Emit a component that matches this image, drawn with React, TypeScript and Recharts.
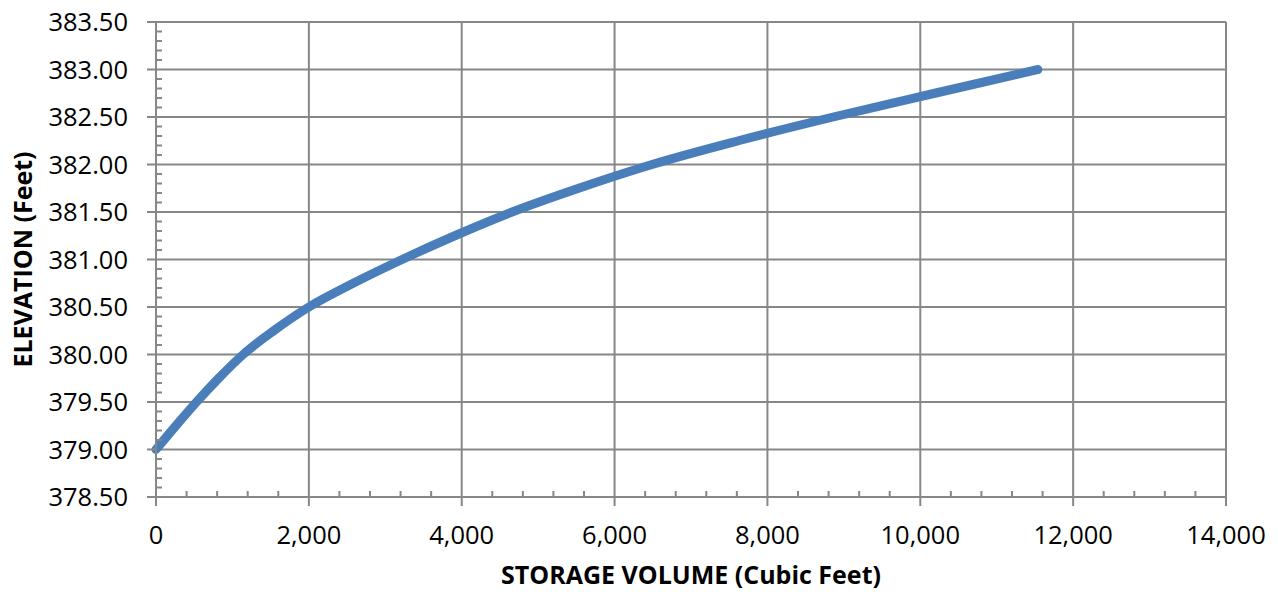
import { LineChart, Line, XAxis, YAxis, CartesianGrid } from "recharts";

// storage volume (cu ft) vs. elevation (ft)
const elevation = [
  379.0, 379.25, 379.5, 379.75, 380.0, 380.25, 380.5, 380.75, 381.0,
  381.25, 381.5, 381.75, 382.0, 382.25, 382.5, 382.75, 383.0,
];
const volume = [
  0, 260, 530, 820, 1140, 1540, 2000, 2580, 3220,
  3910, 4660, 5530, 6490, 7620, 8860, 10190, 11540,
];

const xMajor = [0, 2000, 4000, 6000, 8000, 10000, 12000, 14000];
const xMinorStep = 400;
const yMajor = [378.5, 379, 379.5, 380, 380.5, 381, 381.5, 382, 382.5, 383, 383.5];
const yMinorStep = 0.1;

const xTicks = Array.from({ length: 14000 / xMinorStep + 1 }, (_, i) => i * xMinorStep);
const yTicks = Array.from({ length: 51 }, (_, i) => +(378.5 + i * yMinorStep).toFixed(1));

const data = volume.map((v, i) => ({ volume: v, elevation: elevation[i] }));

const GRID = "#878787";
const FONT = "'Open Sans', sans-serif";

const isMajor = (list: number[], v: number) => list.some((m) => Math.abs(m - v) < 1e-6);

function XTick(props: any) {
  const { x, y, payload } = props;
  const major = isMajor(xMajor, payload.value);
  return (
    <g>
      {major ? (
        <line x1={x} x2={x} y1={y} y2={y + 9} stroke={GRID} strokeWidth={2} />
      ) : (
        <line x1={x} x2={x} y1={y} y2={y - 6} stroke={GRID} strokeWidth={2} />
      )}
      {major && (
        <text x={x} y={y + 47} textAnchor="middle" fill="#000" fontSize={25.5} fontFamily={FONT}>
          {payload.value.toLocaleString("en-US")}
        </text>
      )}
    </g>
  );
}

function YTick(props: any) {
  const { x, y, payload } = props;
  const major = isMajor(yMajor, payload.value);
  return (
    <g>
      {major ? (
        <line x1={x - 9} x2={x} y1={y} y2={y} stroke={GRID} strokeWidth={2} />
      ) : (
        <line x1={x} x2={x + 6} y1={y} y2={y} stroke={GRID} strokeWidth={2} />
      )}
      {major && (
        <text x={x - 28} y={y + 9} textAnchor="end" fill="#000" fontSize={25.5} fontFamily={FONT}>
          {payload.value.toFixed(2)}
        </text>
      )}
    </g>
  );
}

export default function App() {
  return (
    <div style={{ position: "absolute", left: 0, top: 0, width: 1278, height: 592, background: "#fff" }}>
      <LineChart
        width={1278}
        height={592}
        data={data}
        margin={{ top: 22, right: 52, left: 0, bottom: 0 }}
      >
        <CartesianGrid
          stroke={GRID}
          strokeWidth={2}
          verticalValues={xMajor}
          horizontalValues={yMajor}
        />
        <XAxis
          dataKey="volume"
          type="number"
          domain={[0, 14000]}
          ticks={xTicks}
          interval={0}
          tickSize={0}
          tickMargin={0}
          tickLine={false}
          tick={<XTick />}
          height={95}
          axisLine={{ stroke: GRID, strokeWidth: 2 }}
          label={{
            value: "STORAGE VOLUME (Cubic Feet)",
            position: "insideBottom",
            offset: 8,
            style: { fontFamily: FONT, fontWeight: 700, fontSize: 25, fill: "#000" },
          }}
        />
        <YAxis
          dataKey="elevation"
          type="number"
          domain={[378.5, 383.5]}
          ticks={yTicks}
          interval={0}
          tickSize={0}
          tickMargin={0}
          tickLine={false}
          tick={<YTick />}
          width={156}
          axisLine={{ stroke: GRID, strokeWidth: 2 }}
          label={{
            value: "ELEVATION (Feet)",
            angle: -90,
            position: "insideLeft",
            offset: 23,
            style: { textAnchor: "middle", fontFamily: FONT, fontWeight: 700, fontSize: 25, fill: "#000" },
          }}
        />
        <Line
          type="monotone"
          dataKey="elevation"
          stroke="#4A7EBB"
          strokeWidth={9}
          strokeLinecap="round"
          strokeLinejoin="round"
          dot={false}
          activeDot={false}
          isAnimationActive={false}
        />
      </LineChart>
    </div>
  );
}
